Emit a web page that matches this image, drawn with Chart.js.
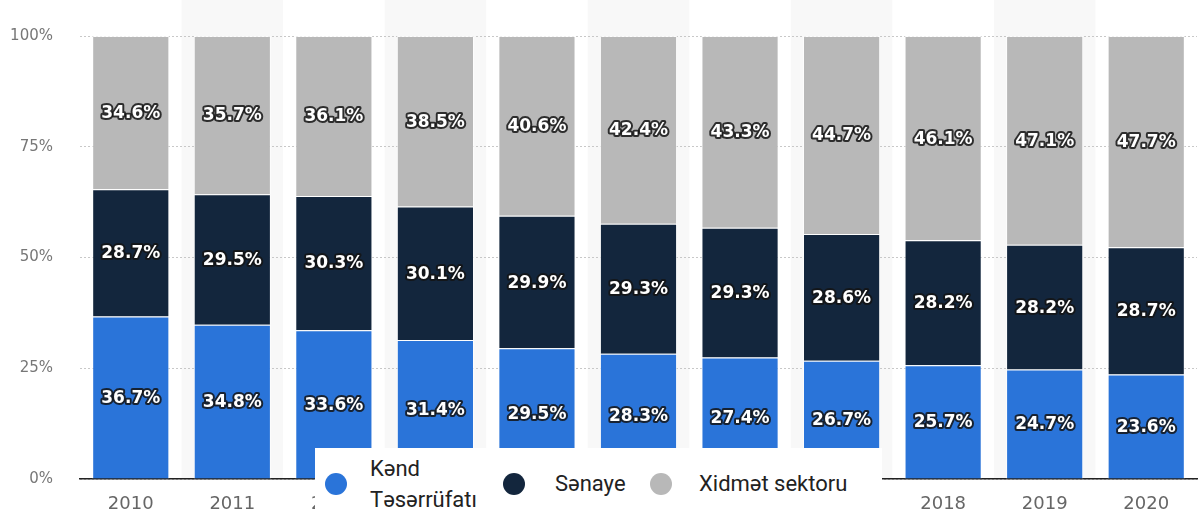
<!DOCTYPE html>
<html>
<head>
<meta charset="utf-8">
<script src="https://cdn.jsdelivr.net/npm/chart.js@4.4.1/dist/chart.umd.min.js"></script>
<style>
  html, body { margin: 0; padding: 0; background: #fff; }
  #wrap { position: relative; width: 1202px; height: 519px; }
  #legend {
    position: absolute; left: 315px; top: 448px; width: 567px; height: 71px;
    background: #fff; display: flex; align-items: center; padding-left: 10px; box-sizing: border-box;
    font-family: Roboto, "Noto Sans", sans-serif; font-size: 22px; color: #222;
  }
  .item { display: flex; align-items: center; }
  .dot { width: 22px; height: 22px; border-radius: 50%; flex: none; }
  .txt { line-height: 31px; }
</style>
</head>
<body>
<div id="wrap">
  <canvas id="chart"></canvas>
  <div id="legend"></div>
</div>
<script>
const years = ['2010', '2011', '2012', '2013', '2014', '2015', '2016', '2017', '2018', '2019', '2020'];
const seriesNames = ['Kənd Təsərrüfatı', 'Sənaye', 'Xidmət sektoru'];
const kend = [36.7, 34.8, 33.6, 31.4, 29.5, 28.3, 27.4, 26.7, 25.7, 24.7, 23.6];
const senaye = [28.7, 29.5, 30.3, 30.1, 29.9, 29.3, 29.3, 28.6, 28.2, 28.2, 28.7];
const xidmet = [34.6, 35.7, 36.1, 38.5, 40.6, 42.4, 43.3, 44.7, 46.1, 47.1, 47.7];
const yTicks = [0, 25, 50, 75, 100];
const colors = ['#2a74d9', '#13263d', '#b8b8b8'];

// alternating light bands behind every second year
const bandPlugin = {
    id: 'bands',
    beforeDraw(chart) {
        const x = chart.scales.x;
        const ctx = chart.ctx;
        const w = (chart.chartArea.right - chart.chartArea.left) / years.length;
        ctx.save();
        ctx.fillStyle = '#f8f8f8';
        years.forEach((y, i) => {
            if (i % 2 === 1) {
                const cx = x.getPixelForValue(i);
                ctx.fillRect(cx - w / 2, 0, w, chart.chartArea.bottom);
            }
        });
        ctx.restore();
    }
};

// white labels with dark outline in the middle of each segment
const labelPlugin = {
    id: 'segLabels',
    afterDatasetsDraw(chart) {
        const ctx = chart.ctx;
        ctx.save();
        ctx.font = 'bold 17px "DejaVu Sans"';
        ctx.textAlign = 'center';
        ctx.textBaseline = 'middle';
        ctx.lineJoin = 'round';
        chart.data.datasets.forEach((ds, di) => {
            chart.getDatasetMeta(di).data.forEach((bar, i) => {
                const p = bar.getProps(['x', 'y', 'base'], true);
                const cy = (p.y + p.base) / 2 + 1;
                const txt = ds.data[i].toFixed(1) + '%';
                ctx.lineWidth = 4;
                ctx.strokeStyle = 'rgba(20,20,20,0.85)';
                ctx.strokeText(txt, p.x, cy);
                ctx.fillStyle = '#fff';
                ctx.fillText(txt, p.x, cy);
            });
        });
        ctx.restore();
    }
};

const allData = [kend, senaye, xidmet];

const chart = new Chart(document.getElementById('chart'), {
    type: 'bar',
    data: {
        labels: years,
        datasets: seriesNames.map((name, i) => ({
            label: name,
            data: allData[i],
            backgroundColor: colors[i],
            borderColor: 'rgba(255,255,255,0.7)',
            borderWidth: 1,
            barPercentage: 0.76,
            categoryPercentage: 1
        }))
    },
    options: {
        responsive: true,
        maintainAspectRatio: false,
        animation: false,
        layout: { padding: { top: 34, right: 5, left: 0, bottom: 0 } },
        plugins: {
            legend: { display: false },
            tooltip: { enabled: false }
        },
        scales: {
            x: {
                stacked: true,
                grid: { display: false },
                border: { display: true, color: '#222', width: 1.5 },
                ticks: { color: '#666', padding: 7, font: { family: 'DejaVu Sans', size: 18 } },
                afterFit(scale) { scale.height = 40; }
            },
            y: {
                stacked: true,
                min: 0,
                max: 100,
                afterBuildTicks(scale) { scale.ticks = yTicks.map(v => ({ value: v })); },
                grid: { color: '#c8c8c8', drawTicks: false },
                border: { display: false, dash: [2, 2] },
                ticks: {
                    color: '#777',
                    padding: 27,
                    font: { family: 'DejaVu Sans', size: 15 },
                    callback: v => v + '%'
                },
                afterFit(scale) { scale.width = 80; }
            }
        }
    },
    plugins: [bandPlugin, labelPlugin]
});

// legend laid over the bottom of the chart
const legend = document.getElementById('legend');
const spacing = [{ dotGap: 23, w: 112, after: 21 }, { dotGap: 30, w: 95, after: 0 }, { dotGap: 27, w: 175, after: 0 }];
seriesNames.forEach((name, i) => {
    const item = document.createElement('div');
    item.className = 'item';
    const dot = document.createElement('span');
    dot.className = 'dot';
    dot.style.background = colors[i];
    const txt = document.createElement('span');
    txt.className = 'txt';
    txt.textContent = name;
    txt.style.marginLeft = spacing[i].dotGap + 'px';
    txt.style.width = spacing[i].w + 'px';
    txt.style.marginRight = spacing[i].after + 'px';
    item.appendChild(dot);
    item.appendChild(txt);
    legend.appendChild(item);
});
</script>
</body>
</html>
